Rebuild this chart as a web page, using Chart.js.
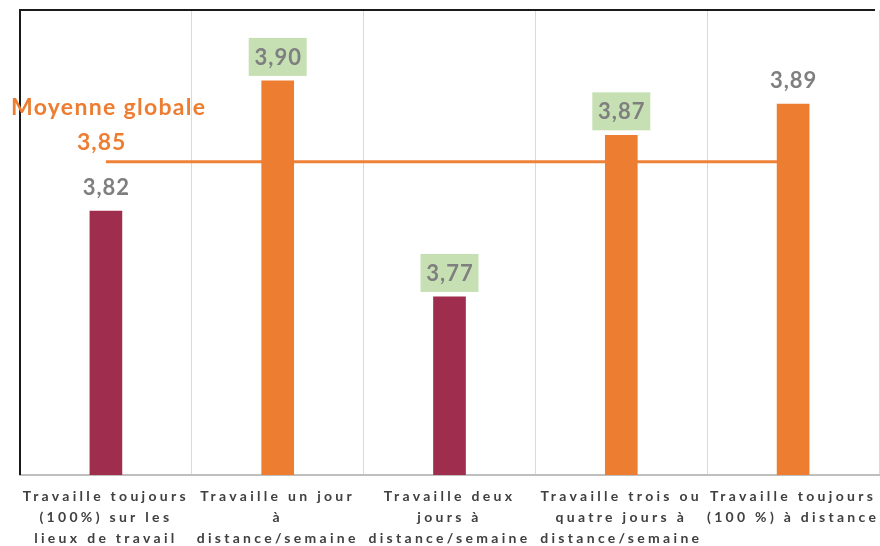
<!DOCTYPE html>
<html lang="fr">
<head>
<meta charset="UTF-8">
<title>Moyenne globale</title>
<script src="https://cdn.jsdelivr.net/npm/chart.js"></script>
<style>
  html, body { margin: 0; padding: 0; background: #fff; }
  canvas { display: block; }
</style>
</head>
<body>
<canvas id="chart" width="880" height="546"></canvas>
<script>
// data
const categories = [
  ['Travaille toujours', '(100%) sur les', 'lieux de travail'],
  ['Travaille un jour', 'à', 'distance/semaine'],
  ['Travaille deux', 'jours à', 'distance/semaine'],
  ['Travaille trois ou', 'quatre jours à', 'distance/semaine'],
  ['Travaille toujours', '(100 %) à distance']
];
const scores = [3.82, 3.899, 3.768, 3.866, 3.885];
const scoreLabels = ['3,82', '3,90', '3,77', '3,87', '3,89'];
const highlighted = [false, true, true, true, false];
const moyenne = 3.85;
const moyenneLabel = '3,85';

const MAROON = '#9e2d4e';
const ORANGE = '#ed7d31';
const barColors = ['maroon', 'orange', 'maroon', 'orange', 'orange'].map(c => c === 'maroon' ? MAROON : ORANGE);

const ctx = document.getElementById('chart').getContext('2d');

// tick labels are drawn letter-spaced like the original
const spacing = {
  id: 'spacing',
  beforeDraw(chart) { chart.ctx.letterSpacing = '3.3px'; },
  beforeDatasetsDraw(chart) { chart.ctx.letterSpacing = '0px'; }
};

const labels = {
  id: 'labels',
  afterDatasetsDraw(chart) {
    const c = chart.ctx;
    const area = chart.chartArea;
    c.save();
    // frame: black top + left
    c.strokeStyle = '#1a1a1a';
    c.lineWidth = 2;
    c.beginPath();
    c.moveTo(area.left, area.bottom);
    c.lineTo(area.left, area.top);
    c.lineTo(area.right - 4, area.top);
    c.stroke();

    // value labels above bars
    const bars = chart.getDatasetMeta(1).data;
    c.font = 'bold 22px Lato';
    c.letterSpacing = '1px';
    c.textAlign = 'center';
    c.textBaseline = 'middle';
    bars.forEach((bar, i) => {
      const cy = bar.y - 24;
      if (highlighted[i]) {
        c.fillStyle = '#c6e0b4';
        c.fillRect(bar.x - 29, cy - 19, 58, 38);
      }
      c.fillStyle = '#7f7f7f';
      c.fillText(scoreLabels[i], bar.x + 0.5, cy + 1);
    });

    // average annotation
    const yAvg = chart.scales.y.getPixelForValue(moyenne);
    c.fillStyle = ORANGE;
    c.textAlign = 'left';
    c.font = 'bold 23px Lato';
    c.letterSpacing = '1.3px';
    c.fillText('Moyenne globale', 11, yAvg - 54);
    c.letterSpacing = '1px';
    c.fillText(moyenneLabel, 77, yAvg - 19);
    c.restore();
  }
};

new Chart(ctx, {
  data: {
    labels: categories,
    datasets: [
      {
        type: 'line',
        data: categories.map(() => moyenne),
        borderColor: '#ee8239',
        borderWidth: 3,
        pointRadius: 0,
        order: 2
      },
      {
        type: 'bar',
        data: scores,
        backgroundColor: barColors,
        barThickness: 32,
        order: 1
      }
    ]
  },
  options: {
    responsive: false,
    animation: false,
    layout: { padding: { left: 20, right: 1, top: 10, bottom: 0 } },
    plugins: { legend: { display: false }, tooltip: { enabled: false } },
    scales: {
      x: {
        offset: true,
        grid: { color: '#d9d9d9', lineWidth: 1, drawTicks: false, offset: true },
        border: { color: '#bfbfbf', width: 2 },
        ticks: {
          maxRotation: 0,
          autoSkip: false,
          padding: 11,
          color: '#404040',
          font: { family: 'Lato', weight: 'bold', size: 14, lineHeight: 1.5 }
        },
        afterFit(scale) { scale.height = 71; }
      },
      y: {
        display: false,
        min: 3.66,
        max: 3.942
      }
    }
  },
  plugins: [spacing, labels]
});
</script>
</body>
</html>
